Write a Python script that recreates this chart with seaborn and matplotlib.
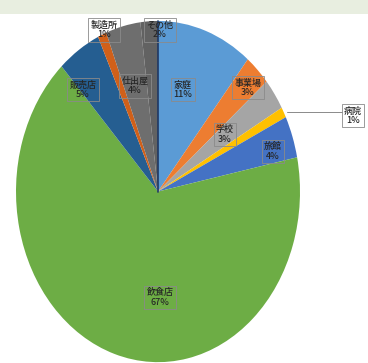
import matplotlib
matplotlib.use("Agg")
import matplotlib.pyplot as plt
import seaborn as sns
from matplotlib.patches import Rectangle

categories = ["家庭", "事業場", "学校", "病院", "旅館", "飲食店", "販売店", "製造所", "仕出屋", "その他"]
values = [11, 3, 3, 1, 4, 67, 5, 1, 4, 2]

colors = ["#5B9BD5", "#ED7D31", "#A5A5A5", "#FFC000", "#4472C4", "#6DAD45",
          "#255E91", "#D0601A", "#6E6E6E", "#626262"]

sns.set_theme(style="white")
plt.rcParams['font.family'] = ['Noto Sans CJK JP', 'DejaVu Sans']

W, H = 368, 363
fig = plt.figure(figsize=(W / 100, H / 100), dpi=100)
ax = fig.add_axes([0, 0, 1, 1])

cx, cy, rx, ry = 158, 192, 142, 171

ax.pie(values, colors=sns.color_palette(colors), startangle=90, counterclock=False,
       wedgeprops=dict(linewidth=0), radius=1)
ax.set_aspect('auto')
ax.set_xlim(-cx / rx, (W - cx) / rx)
ax.set_ylim((cy - H) / ry - 0.005, cy / ry)
ax.axis('off')

# thin dark separator at the start angle
ax.plot([0, 0], [0, 1], color='#1F3864', linewidth=1.2, zorder=3)

def to_data(px, py):
    return (px - cx) / rx, (cy - py) / ry

label_px = [(183, 90), (248, 88), (225, 135), (353, 116), (273, 152),
            (160, 298), (83, 90), (104, 30), (135, 86), (160, 30)]

for name, v, (px, py) in zip(categories, values, label_px):
    x, y = to_data(px, py)
    ax.text(x, y, f"{name}\n{v}%", ha='center', va='center', fontsize=6.5,
            color='#262626', linespacing=1.1, fontweight='medium', zorder=4,
            bbox=dict(boxstyle='square,pad=0.25', facecolor='none',
                      edgecolor='#8a8a8a', linewidth=0.6))

# leader line for 病院
x0, y0 = to_data(287, 112)
x1, y1 = to_data(342, 112)
ax.plot([x0, x1], [y0, y1], color='#8a8a8a', linewidth=0.7)

# top band
fig.patches.append(Rectangle((0, 1 - 14 / H), 1, 14 / H, transform=fig.transFigure,
                             facecolor='#e8eee0', edgecolor='none', zorder=-1))

fig.savefig("out.png", dpi=100)
